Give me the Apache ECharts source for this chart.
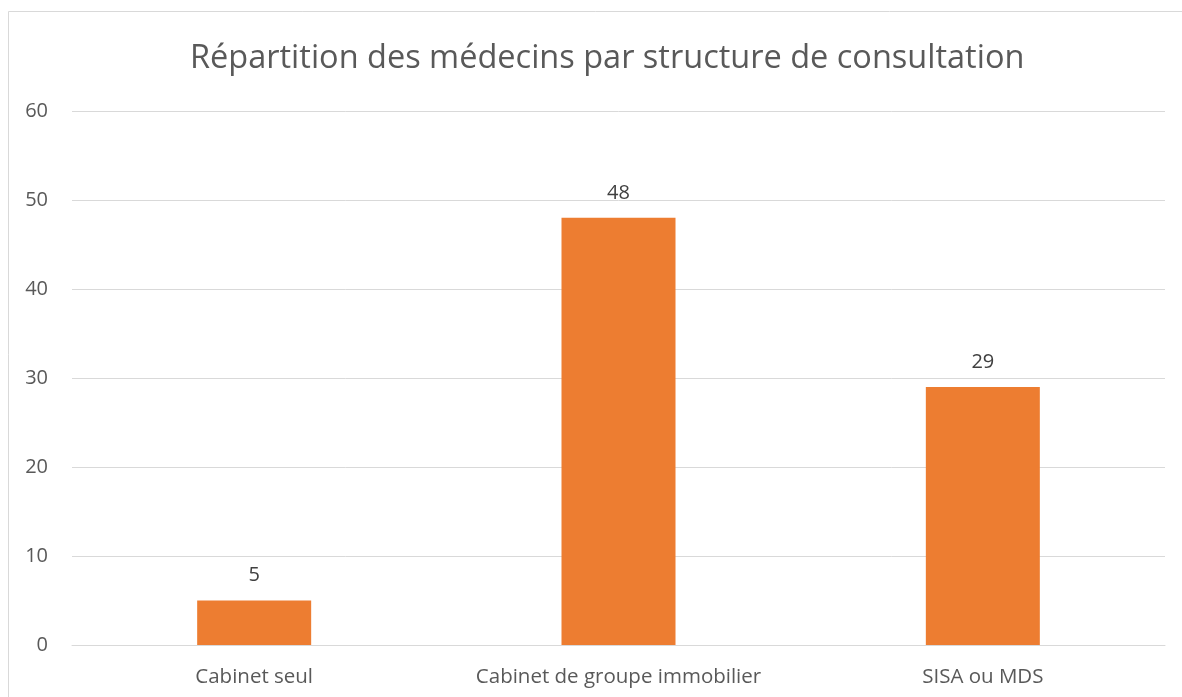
<!DOCTYPE html>
<html><head><meta charset="utf-8">
<script src="https://cdn.jsdelivr.net/npm/echarts@6/dist/echarts.min.js"></script>
<style>html,body{margin:0;padding:0;background:#fff}#c{width:1182px;height:697px}</style>
</head><body><div id="c"></div>
<script>
const categories = ['Cabinet seul', 'Cabinet de groupe immobilier', 'SISA ou MDS'];
const values = [5, 48, 29];
const titleText = 'Répartition des médecins par structure de consultation';
const FONT = '"Open Sans", "Noto Sans", sans-serif';
const chart = echarts.init(document.getElementById('c'));
chart.setOption({
  animation: false,
  backgroundColor: '#fff',
  title: {
    text: titleText, left: 185, top: 37,
    textStyle: { fontFamily: FONT, fontSize: 32.5, fontWeight: 'normal', color: '#595959' }
  },
  graphic: [{
    type: 'rect', silent: true,
    shape: { x: 8.5, y: 11.5, width: 1300, height: 800 },
    style: { fill: 'none', stroke: '#d9d9d9', lineWidth: 1 }
  }],
  grid: { left: 72, right: 17, top: 111, bottom: 52, containLabel: false },
  xAxis: {
    type: 'category', data: categories,
    axisLine: { show: true, lineStyle: { color: '#d9d9d9', width: 1 } },
    axisTick: { show: false },
    axisLabel: { interval: 0, hideOverlap: false, fontFamily: FONT, fontSize: 20.5, color: '#595959', margin: 22 }
  },
  yAxis: {
    type: 'value', min: 0, max: 60, interval: 10,
    axisLine: { show: false }, axisTick: { show: false },
    splitLine: { lineStyle: { color: '#d9d9d9', width: 1 } },
    axisLabel: { fontFamily: FONT, fontSize: 20, color: '#595959', margin: 24 }
  },
  series: [{
    type: 'bar', data: values, barWidth: 114,
    itemStyle: { color: '#ED7D31' },
    label: { show: true, position: 'top', distance: 15, fontFamily: FONT, fontSize: 20, color: '#404040' }
  }]
});
</script></body></html>
